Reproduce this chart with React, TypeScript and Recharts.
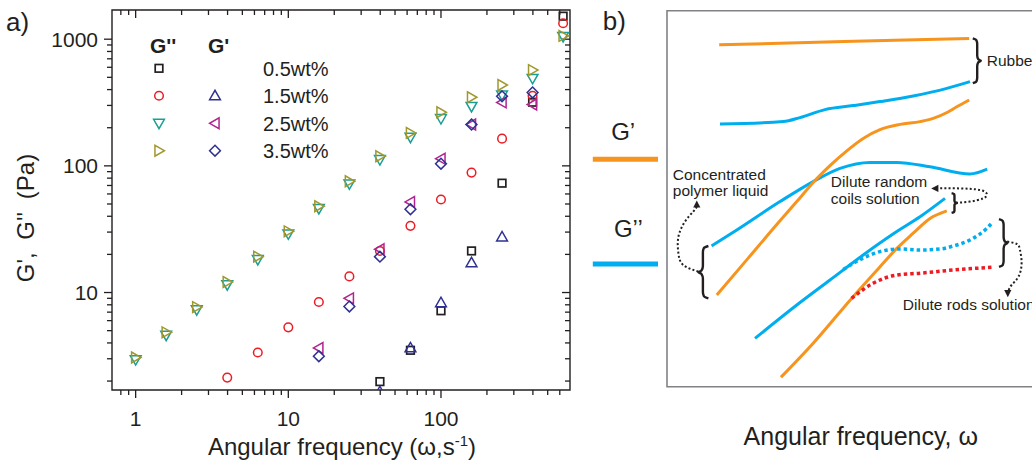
import React from "react";
import {
  ScatterChart,
  Scatter,
  XAxis,
  YAxis,
  Legend,
  ComposedChart,
  Line,
  ReferenceArea,
} from "recharts";

const FONT = "'Liberation Sans', Arial, Helvetica, sans-serif";
const INK = "#231f20";

/* ---------------- Panel a data ---------------- */
const freq = [0.631, 1, 1.585, 2.512, 3.981, 6.31, 10, 15.85, 25.12, 39.81, 63.1, 100, 158.5, 251.2, 398.1, 631];
const gpp05 = [null, null, null, null, null, null, null, null, null, 1.98, 3.5, 7.18, 21.3, 73, 318, 1520];
const gpp15 = [null, null, null, null, 2.13, 3.36, 5.31, 8.41, 13.4, 21.3, 33.6, 54.2, 88.5, 164, 358, 1337];
const gpp25 = [null, 2.95, 4.6, 7.3, 11.5, 18.2, 29, 46, 72, 112, 168, 236, 294, 363, 490, 1050];
const gpp35 = [1.95, 3.07, 4.85, 7.67, 12.1, 19.2, 30.4, 48, 75.5, 119, 182, 265, 348, 435, 570, 1062];
const gp15 = [null, null, null, null, null, null, null, null, null, 1.65, 3.66, 8.33, 17.2, 27.5, null, null];
const gp25 = [null, null, null, null, null, null, null, 3.65, 9.0, 22, 51.9, 114, 212, 317, 305, null];
const gp35 = [null, null, null, null, null, null, null, 3.14, 7.76, 19.2, 45.5, 104, 212, 354, 380, null];

const xDomain = [0.7, 700];
const yDomain = [1.7, 1700];
const xTicks = [0.8, 0.9, 1, 2, 3, 4, 5, 6, 7, 8, 9, 10, 20, 30, 40, 50, 60, 70, 80, 90, 100, 200, 300, 400, 500, 600];
const yTicks = [2, 3, 4, 5, 6, 7, 8, 9, 10, 20, 30, 40, 50, 60, 70, 80, 90, 100, 200, 300, 400, 500, 600, 700, 800, 900, 1000];
const concLabels = ["0.5wt%", "1.5wt%", "2.5wt%", "3.5wt%"];

const COL = {
  black: "#231f20",
  red: "#ed1c24",
  teal: "#1a9e96",
  olive: "#a0982c",
  navy: "#2e3192",
  magenta: "#b0248f",
  orange: "#f7941d",
  cyan: "#00aeef",
  frame: "#808285",
};

const series = [
  { key: "gpp05", kind: "square", color: COL.black, values: gpp05 },
  { key: "gpp15", kind: "circle", color: COL.red, values: gpp15 },
  { key: "gpp25", kind: "down", color: COL.teal, values: gpp25 },
  { key: "gpp35", kind: "right", color: COL.olive, values: gpp35 },
  { key: "gp15", kind: "up", color: COL.navy, values: gp15 },
  { key: "gp25", kind: "left", color: COL.magenta, values: gp25 },
  { key: "gp35", kind: "diamond", color: COL.navy, values: gp35 },
];

const toPts = (vals: (number | null)[]) =>
  freq.map((f, i) => ({ x: f, y: vals[i] })).filter((p) => p.y != null);

function Marker({ kind, cx, cy, color }: { kind: string; cx: number; cy: number; color: string }) {
  const s = 5.4;
  const sw = 1.5;
  if (kind === "square")
    return <rect x={cx - 3.8} y={cy - 3.8} width={7.6} height={7.6} fill="none" stroke={color} strokeWidth={1.7} />;
  if (kind === "circle") return <circle cx={cx} cy={cy} r={4.3} fill="none" stroke={color} strokeWidth={sw} />;
  let pts = "";
  if (kind === "down") pts = `${cx - s},${cy - s * 0.75} ${cx + s},${cy - s * 0.75} ${cx},${cy + s}`;
  if (kind === "up") pts = `${cx - s},${cy + s * 0.75} ${cx + s},${cy + s * 0.75} ${cx},${cy - s}`;
  if (kind === "left") pts = `${cx + s * 0.75},${cy - s} ${cx + s * 0.75},${cy + s} ${cx - s},${cy}`;
  if (kind === "right") pts = `${cx - s * 0.75},${cy - s} ${cx - s * 0.75},${cy + s} ${cx + s},${cy}`;
  if (kind === "diamond") pts = `${cx},${cy - s} ${cx + s},${cy} ${cx},${cy + s} ${cx - s},${cy}`;
  return <polygon points={pts} fill="none" stroke={color} strokeWidth={sw} strokeLinejoin="miter" />;
}

const isMajor = (v: number) => Math.abs(Math.log10(v) - Math.round(Math.log10(v))) < 1e-6;

/* tick labels drawn by the axes */
const BottomLabel = (p: any) => {
  const { x, y, payload } = p;
  if (!isMajor(payload.value)) return <g />;
  return (
    <text x={x} y={y + 36} textAnchor="middle" fontSize={21} fontFamily={FONT} fill={INK}>
      {String(Math.round(payload.value))}
    </text>
  );
};
const LeftLabel = (p: any) => {
  const { x, y, payload } = p;
  if (!isMajor(payload.value)) return <g />;
  return (
    <text x={x - 14} y={y + 7.5} textAnchor="end" fontSize={21} fontFamily={FONT} fill={INK}>
      {String(Math.round(payload.value))}
    </text>
  );
};

/* tick marks drawn as points placed by the axis scales */
const tickMark = (side: "b" | "t" | "l" | "r") => (p: any) => {
  const { cx, cy, payload } = p;
  const v = side === "b" || side === "t" ? payload.x : payload.y;
  const L = isMajor(v) ? 8 : 5;
  let d = "";
  if (side === "b") d = `M${cx},${cy}L${cx},${cy + L}`;
  if (side === "t") d = `M${cx},${cy}L${cx},${cy + L}`;
  if (side === "l") d = `M${cx},${cy}L${cx - L},${cy}`;
  if (side === "r") d = `M${cx},${cy}L${cx - L},${cy}`;
  return <path d={d} stroke={INK} strokeWidth={1.3} fill="none" />;
};
const bottomTickPts = xTicks.map((t) => ({ x: t, y: yDomain[0] }));
const topTickPts = xTicks.map((t) => ({ x: t, y: yDomain[1] }));
const leftTickPts = yTicks.map((t) => ({ x: xDomain[0], y: t }));
const rightTickPts = yTicks.map((t) => ({ x: xDomain[1], y: t }));

const XTitle = () => (
  <text x={342} y={455} textAnchor="middle" fontSize={24} fontFamily={FONT} fill={INK}>
    Angular frequency (ω,s
    <tspan dy={-9} fontSize={15}>-1</tspan>
    <tspan dy={9}>)</tspan>
  </text>
);
const YTitle = () => (
  <g>
    <text
      x={34}
      y={218}
      transform="rotate(-90 34 218)"
      textAnchor="middle"
      fontSize={24}
      wordSpacing={6}
      fontFamily={FONT}
      fill={INK}
    >
      G', G'' (Pa)
    </text>
    <text x={6} y={31} fontSize={26} fontFamily={FONT} fill={INK}>
      a)
    </text>
  </g>
);

const LegendBox = () => {
  const ox = 140;
  const oy = 25;
  const rows = [68.3, 95.7, 123.3, 150.7];
  const c1 = 159;
  const c2 = 215;
  const col1 = ["square", "circle", "down", "right"];
  const col1c = [COL.black, COL.red, COL.teal, COL.olive];
  const col2 = [null, "up", "left", "diamond"];
  const col2c = [null, COL.navy, COL.magenta, COL.navy];
  return (
    <svg width={240} height={145} style={{ overflow: "visible" }}>
      <text x={150 - ox} y={53 - oy} fontSize={21} fontWeight="bold" fontFamily={FONT} fill={INK}>
        G''
      </text>
      <text x={208 - ox} y={53 - oy} fontSize={21} fontWeight="bold" fontFamily={FONT} fill={INK}>
        G'
      </text>
      {rows.map((ry, i) => (
        <g key={i}>
          <Marker kind={col1[i]} cx={c1 - ox} cy={ry - oy} color={col1c[i]} />
          {col2[i] && <Marker kind={col2[i] as string} cx={c2 - ox} cy={ry - oy} color={col2c[i] as string} />}
          <text x={263 - ox} y={ry - oy + 7.5} fontSize={20} fontFamily={FONT} fill={INK}>
            {concLabels[i]}
          </text>
        </g>
      ))}
    </svg>
  );
};

function ChartA() {
  return (
    <ScatterChart width={580} height={461} margin={{ top: 10, right: 10, bottom: 0, left: 0 }}>
      <XAxis
        xAxisId="b"
        type="number"
        dataKey="x"
        scale="log"
        domain={xDomain}
        allowDataOverflow
        ticks={xTicks}
        interval={0}
        height={71}
        tickSize={0}
        tickMargin={0}
        tickLine={false}
        axisLine={false}
        tick={BottomLabel}
        label={<XTitle />}
      />
      <XAxis
        xAxisId="t"
        orientation="top"
        type="number"
        dataKey="x"
        scale="log"
        domain={xDomain}
        height={0}
        tick={false}
        tickLine={false}
        axisLine={false}
      />
      <YAxis
        yAxisId="l"
        type="number"
        dataKey="y"
        scale="log"
        domain={yDomain}
        allowDataOverflow
        ticks={yTicks}
        interval={0}
        width={112}
        tickSize={0}
        tickMargin={0}
        tickLine={false}
        axisLine={false}
        tick={LeftLabel}
        label={<YTitle />}
      />
      <YAxis
        yAxisId="r"
        orientation="right"
        type="number"
        dataKey="y"
        scale="log"
        domain={yDomain}
        width={0}
        tick={false}
        tickLine={false}
        axisLine={false}
      />
      <ReferenceArea
        xAxisId="b"
        yAxisId="l"
        x1={xDomain[0]}
        x2={xDomain[1]}
        y1={yDomain[0]}
        y2={yDomain[1]}
        fill="none"
        fillOpacity={0}
        stroke={INK}
        strokeWidth={1.4}
        ifOverflow="visible"
      />
      <Scatter xAxisId="t" yAxisId="r" data={bottomTickPts} shape={tickMark("b")} isAnimationActive={false} />
      <Scatter xAxisId="t" yAxisId="r" data={topTickPts} shape={tickMark("t")} isAnimationActive={false} />
      <Scatter xAxisId="t" yAxisId="r" data={leftTickPts} shape={tickMark("l")} isAnimationActive={false} />
      <Scatter xAxisId="t" yAxisId="r" data={rightTickPts} shape={tickMark("r")} isAnimationActive={false} />
      {series.map((s) => (
        <Scatter
          key={s.key}
          xAxisId="b"
          yAxisId="l"
          data={toPts(s.values)}
          isAnimationActive={false}
          shape={(p: any) => <Marker kind={s.kind} cx={p.cx} cy={p.cy} color={s.color} />}
        />
      ))}
      <Legend
        layout="vertical"
        align="center"
        verticalAlign="middle"
        wrapperStyle={{ left: 140, top: 25, width: 240, height: 145 }}
        content={() => <LegendBox />}
      />
    </ScatterChart>
  );
}

/* ---------------- Panel b data (schematic, arbitrary log units) ---------------- */
const rubberGp = [[34.8, 103.8], [66, 104.6], [97.3, 105.4]];
const rubberGpp = [[35, 84], [50.8, 84.6], [55, 85.6], [61.25, 87.6], [68.3, 88.6], [75, 89.6], [83.3, 91], [91.7, 92.9], [97.5, 94.6]];
const concGp = [[34.2, 41.25], [42, 50.4], [50, 59.8], [54.2, 64.6], [58.3, 69.4], [62.5, 73.6], [66.7, 77.3], [70.8, 80.4], [75, 82.6], [80, 83.9], [85, 84.6], [88.3, 85.4], [92, 87], [94.2, 88.3], [97.3, 90]];
const concGpp = [[32.9, 53.5], [39.2, 57.5], [50, 64.6], [58.3, 69.6], [65, 72.9], [72.5, 74.4], [79.2, 74.4], [87.5, 73.3], [97.5, 71.5], [101.8, 72.7]];
const coilsGpp = [[43.75, 30.4], [54.2, 38.75], [62.5, 45], [70.8, 51.25], [79.2, 57.1], [85, 60.8], [91.25, 65.4]];
const coilsGp = [[50.25, 20.7], [58.3, 29.2], [67.9, 40.4], [75, 48.3], [79.2, 52.9], [83.3, 56.7], [87.5, 60.4], [91.7, 62.3]];
const rodsGpp = [[65.8, 47.6], [70.8, 50.5], [75, 52.1], [80, 52.75], [85, 52.5], [90, 52.75], [93.3, 53.5], [97.5, 55], [101.7, 57.9], [103.3, 59.6]];
const rodsGp = [[67.9, 40.4], [73.3, 44.2], [79.2, 46.25], [85, 46.7], [93.3, 47.5], [103.3, 48.2]];
const legendGp = [[3.2, 75.2], [19.5, 75.2]];
const legendGpp = [[3.2, 49], [19.5, 49]];
const concArrow = [[29.6, 47.1], [25.8, 48.75], [24.6, 51.7], [24.6, 55.8], [26.25, 59.6], [28.3, 62.1], [29.2, 63.3]];
const coilsArrow = [[94, 64.3], [97.5, 64.6], [100.8, 65.4], [101.7, 66.5], [100, 67.5], [95, 67.9], [89.5, 67.9]];
const rodsArrow = [[106.8, 54.6], [109.2, 54], [110, 52.5], [110.4, 49.2], [109.6, 45.8], [107.9, 43.75], [107.1, 42.3]];
const arrowHeads = [
  { x: 29.2, y: 64.0, dir: "up" },
  { x: 88.7, y: 67.9, dir: "left" },
  { x: 106.95, y: 41.6, dir: "down" },
];
const braces = [
  { x: 98.2, top: 105.4, bottom: 94.2, w: 2.0 },
  { x: 32.1, top: 53.5, bottom: 40.4, w: -2.5 },
  { x: 92.9, top: 66.7, bottom: 61.8, w: 1.3 },
  { x: 104.75, top: 60.2, bottom: 48.3, w: 2.1 },
];
const notes = [
  { x: 5.7, y: 107.5, text: "b)", kind: "panel" },
  { x: 10.8, y: 80, text: "G’", kind: "big" },
  { x: 12.1, y: 55.7, text: "G’’", kind: "big" },
  { x: 101.7, y: 98.5, text: "Rubber", kind: "note" },
  { x: 23.2, y: 70.1, text: "Concentrated", kind: "note" },
  { x: 23.2, y: 66, text: "polymer liquid", kind: "note" },
  { x: 62.7, y: 68.2, text: "Dilute random", kind: "note" },
  { x: 62.7, y: 64, text: "coils solution", kind: "note" },
  { x: 80.7, y: 37.5, text: "Dilute rods solution", kind: "note" },
  { x: 70.2, y: 3.75, text: "Angular frequency, ω", kind: "axis" },
];
const frameBox = { x1: 21.75, x2: 118, y1: 18.3, y2: 112.3 };

const NOTE_STYLE: Record<string, { size: number; anchor: string }> = {
  panel: { size: 26, anchor: "start" },
  big: { size: 24, anchor: "middle" },
  note: { size: 15.5, anchor: "start" },
  axis: { size: 25, anchor: "middle" },
};

const BRACE_TEMPLATE = [
  [0, 0], [0.45, 0.04], [0.55, 0.12], [0.55, 0.38], [0.7, 0.47], [1, 0.5],
  [0.7, 0.53], [0.55, 0.62], [0.55, 0.88], [0.45, 0.96], [0, 1],
];
const bracePts = (b: { x: number; top: number; bottom: number; w: number }) =>
  BRACE_TEMPLATE.map(([fx, fy]) => ({ x: b.x + fx * b.w, y: b.top - fy * (b.top - b.bottom) }));

const asPts = (arr: number[][]) => arr.map(([x, y]) => ({ x, y }));

const NoteShape = (p: any) => {
  const st = NOTE_STYLE[p.payload.kind];
  return (
    <text x={p.cx} y={p.cy} fontSize={st.size} textAnchor={st.anchor as any} fontFamily={FONT} fill={INK}>
      {p.payload.text}
    </text>
  );
};
const HeadShape = (p: any) => {
  const { cx, cy } = p;
  const d = p.payload.dir;
  const s = 3.6;
  let pts = "";
  if (d === "up") pts = `${cx - s},${cy + s} ${cx + s},${cy + s} ${cx},${cy - s}`;
  if (d === "down") pts = `${cx - s},${cy - s} ${cx + s},${cy - s} ${cx},${cy + s}`;
  if (d === "left") pts = `${cx + s},${cy - s} ${cx + s},${cy + s} ${cx - s},${cy}`;
  return <polygon points={pts} fill={INK} />;
};

function ChartB() {
  const solid = (data: number[][], color: string, key: string, w = 3) => (
    <Line key={key} data={asPts(data)} dataKey="y" type="monotone" stroke={color} strokeWidth={w} dot={false} isAnimationActive={false} strokeLinecap="butt" />
  );
  const dotted = (data: number[][], color: string, key: string) => (
    <Line key={key} data={asPts(data)} dataKey="y" type="monotone" stroke={color} strokeWidth={3.5} strokeDasharray="3.5 3" dot={false} isAnimationActive={false} />
  );
  const arrow = (data: number[][], key: string) => (
    <Line key={key} data={asPts(data)} dataKey="y" type="natural" stroke={INK} strokeWidth={2} strokeDasharray="2 2.2" dot={false} isAnimationActive={false} />
  );
  return (
    <ComposedChart width={480} height={460} margin={{ top: 0, right: 0, bottom: 0, left: 0 }}>
      <XAxis type="number" dataKey="x" domain={[0, 120]} hide />
      <YAxis type="number" dataKey="y" domain={[0, 115]} hide />
      <ReferenceArea {...frameBox} fill="none" fillOpacity={0} stroke={COL.frame} strokeWidth={1.6} ifOverflow="visible" />
      {solid(legendGp, COL.orange, "lgp", 5)}
      {solid(legendGpp, COL.cyan, "lgpp", 5)}
      {solid(rubberGp, COL.orange, "rgp")}
      {solid(rubberGpp, COL.cyan, "rgpp")}
      {solid(concGpp, COL.cyan, "cgpp")}
      {solid(concGp, COL.orange, "cgp")}
      {solid(coilsGpp, COL.cyan, "kgpp")}
      {solid(coilsGp, COL.orange, "kgp")}
      {dotted(rodsGpp, COL.cyan, "dgpp")}
      {dotted(rodsGp, COL.red, "dgp")}
      {arrow(concArrow, "a1")}
      {arrow(coilsArrow, "a2")}
      {arrow(rodsArrow, "a3")}
      {braces.map((b, i) => (
        <Line key={"br" + i} data={bracePts(b)} dataKey="y" type="monotoneY" stroke={INK} strokeWidth={2.4} dot={false} isAnimationActive={false} />
      ))}
      <Scatter data={arrowHeads} shape={HeadShape} isAnimationActive={false} />
      <Scatter data={notes} shape={NoteShape} isAnimationActive={false} />
    </ComposedChart>
  );
}

export default function App() {
  return (
    <div style={{ position: "absolute", left: 0, top: 0, width: 1032, height: 461, overflow: "hidden", background: "#fff" }}>
      <div style={{ position: "absolute", left: 0, top: 0 }}>
        <ChartA />
      </div>
      <div style={{ position: "absolute", left: 580, top: 0 }}>
        <ChartB />
      </div>
    </div>
  );
}
